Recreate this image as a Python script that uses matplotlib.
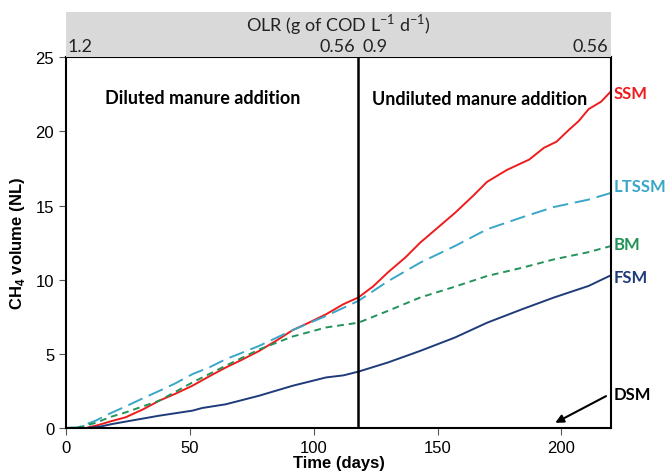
import matplotlib.pyplot as plt
from matplotlib.patches import Rectangle

plt.rcParams['font.family'] = ['Liberation Sans', 'DejaVu Sans']
plt.rcParams['mathtext.fontset'] = 'custom'
plt.rcParams['mathtext.rm'] = 'Lato'
plt.rcParams['mathtext.bf'] = 'Liberation Sans:bold'

# days / cumulative CH4 volume (NL)
ssm_days = [0, 8, 13, 18, 24, 31, 37.6, 44, 51, 58, 64.5, 71, 78, 85, 91.5, 98, 105, 112, 118,
            124, 130, 137, 143, 150, 157, 164, 170, 178, 187, 193, 198, 203, 207, 211, 216, 220]
ssm_vals = [0, 0, 0.2, 0.45, 0.72, 1.25, 1.84, 2.3, 2.85, 3.5, 4.08, 4.6, 5.2, 5.9, 6.6, 7.1, 7.67, 8.35, 8.8,
            9.55, 10.5, 11.5, 12.5, 13.5, 14.5, 15.6, 16.6, 17.4, 18.1, 18.9, 19.3, 20.1, 20.7, 21.5, 22.0, 22.7]

lt_days = [0, 5, 12, 18, 24, 31, 37.6, 44, 51, 58, 64.5, 78, 91.5, 105, 118, 130, 143, 157, 170, 184, 197, 211, 220]
lt_vals = [0, 0.05, 0.5, 1.0, 1.45, 2.0, 2.5, 3.0, 3.63, 4.1, 4.64, 5.54, 6.6, 7.56, 8.57, 9.9, 11.15, 12.27, 13.4, 14.2, 14.9, 15.4, 15.85]

bm_days = [0, 5, 12, 18, 24, 37.6, 51, 64.5, 78, 91.5, 105, 118, 130, 143, 157, 170, 184, 197, 211, 220]
bm_vals = [0, 0.03, 0.35, 0.75, 1.05, 1.84, 3.07, 4.2, 5.3, 6.17, 6.78, 7.1, 7.9, 8.8, 9.53, 10.25, 10.8, 11.37, 11.86, 12.27]

fsm_days = [0, 8, 14, 18, 24, 37.6, 51, 55, 64.5, 78, 91.5, 105, 112, 118, 130, 143, 157, 170, 184, 197, 211, 220]
fsm_vals = [0, 0, 0.1, 0.25, 0.43, 0.83, 1.17, 1.35, 1.6, 2.18, 2.85, 3.41, 3.55, 3.8, 4.42, 5.2, 6.1, 7.1, 8.0, 8.8, 9.58, 10.3]

switch_day = 118
olr_left = ['1.2', '0.56']
olr_right = ['0.9', '0.56']

c_ssm = '#ee1c1c'
c_lt = '#3aa6c8'
c_bm = '#23935a'
c_fsm = '#1f3b7a'

fig = plt.figure(figsize=(6.67, 4.77), dpi=100)
ax = fig.add_axes([0.099, 0.1006, 0.817, 0.7774])

ax.plot(ssm_days, ssm_vals, color=c_ssm, lw=1.4)
ax.plot(lt_days, lt_vals, color=c_lt, lw=1.4, dashes=(8, 3.5))
ax.plot(bm_days, bm_vals, color=c_bm, lw=1.4, dashes=(3.5, 2.5))
ax.plot(fsm_days, fsm_vals, color=c_fsm, lw=1.4)
ax.axvline(switch_day, color='black', lw=1.8)

ax.set_xlim(0, 220)
ax.set_ylim(0, 25)
ax.set_xticks([0, 50, 100, 150, 200])
ax.set_yticks([0, 5, 10, 15, 20, 25])
ax.tick_params(labelsize=12, length=5, color='#555555', direction='out')
for s in ax.spines.values():
    s.set_linewidth(1.5)
ax.set_xlabel('Time (days)', fontsize=12, fontweight='bold', labelpad=0)
ax.set_ylabel('CH$_\\mathbf{4}$ volume (NL)', fontsize=12, fontweight='bold', labelpad=6)

txt = dict(fontsize=13, fontweight='bold', family='Lato', va='center')
ax.text(15.6, 22.3, 'Diluted manure addition', **txt)
ax.text(123.4, 22.2, 'Undiluted manure addition', **txt)

lab = dict(fontsize=12, fontweight='bold', family='Lato', va='center', clip_on=False)
ax.text(221.0, 22.6, 'SSM', color=c_ssm, **lab)
ax.text(221.0, 16.3, 'LTSSM', color=c_lt, **lab)
ax.text(221.0, 12.4, 'BM', color=c_bm, **lab)
ax.text(221.0, 10.2, 'FSM', color=c_fsm, **lab)
ax.text(221.0, 2.3, 'DSM', color='black', **lab)
ax.annotate('', xy=(197.5, 0.35), xytext=(218, 2.15),
            arrowprops=dict(arrowstyle='-|>', color='black', lw=1.5, mutation_scale=12,
                            shrinkA=0, shrinkB=0))

# OLR banner above the plot
ban = fig.add_axes([0.099, 0.878, 0.817, 0.094])
ban.add_patch(Rectangle((0, 0), 1, 1, color='#d9d9d9', transform=ban.transAxes))
ban.set_xlim(0, 220)
ban.set_ylim(0, 1)
ban.axis('off')
bt = dict(fontsize=13, family='Lato', color='#222222')
ban.text(110, 0.76, 'OLR (g of COD L$^{-1}$ d$^{-1}$)', ha='center', va='center', **bt)
ban.text(0.8, 0.25, olr_left[0], ha='left', va='center', **bt)
ban.text(switch_day - 1.2, 0.25, olr_left[1], ha='right', va='center', **bt)
ban.text(switch_day + 1.8, 0.25, olr_right[0], ha='left', va='center', **bt)
ban.text(218.8, 0.25, olr_right[1], ha='right', va='center', **bt)

fig.savefig('out.png', dpi=100)
